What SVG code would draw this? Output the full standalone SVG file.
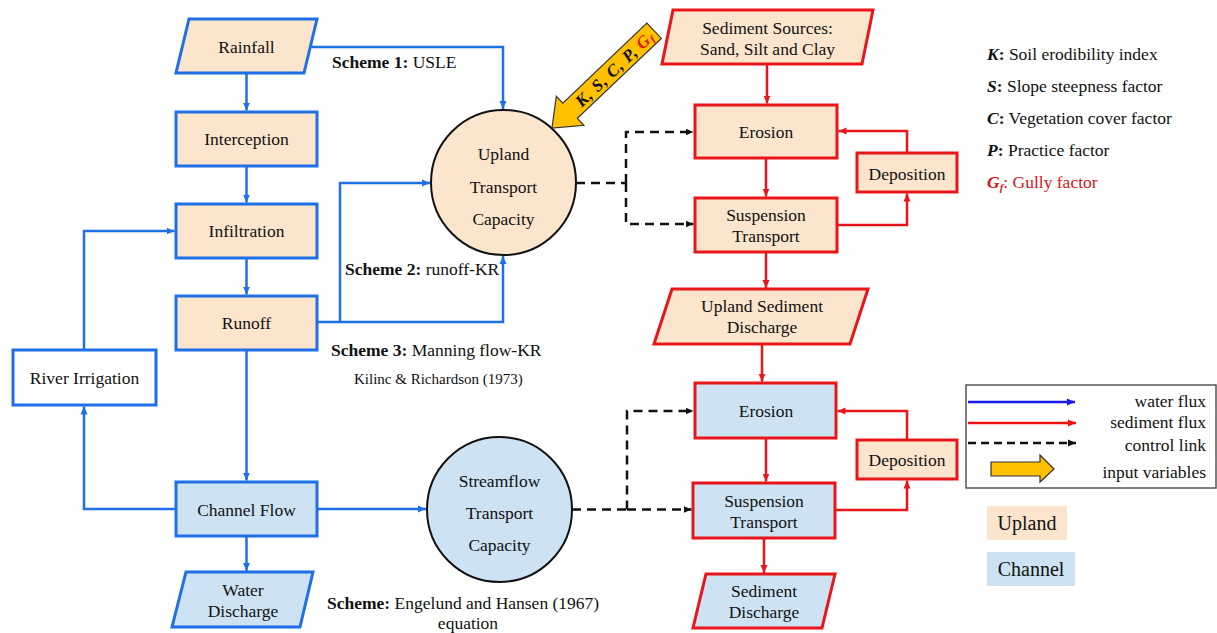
<svg xmlns="http://www.w3.org/2000/svg" width="1217" height="633" viewBox="0 0 1217 633">
<defs>
<style>
.ub{fill:#fbe5cd;stroke:#1f6fe5;stroke-width:3}
.cb{fill:#cde2f3;stroke:#1f6fe5;stroke-width:3}
.wb{fill:#fff;stroke:#1f6fe5;stroke-width:3}
.ur{fill:#fbe5cd;stroke:#e8161b;stroke-width:3}
.cr{fill:#cde2f3;stroke:#e8161b;stroke-width:3}
text{font-family:'Liberation Serif',serif}
.t{font-size:17.5px;fill:#111;text-anchor:middle}
.tl{font-size:17.5px;fill:#111}
.bl{fill:none;stroke:#1f6fe5;stroke-width:2.5;marker-end:url(#ab)}
.bn{fill:none;stroke:#1f6fe5;stroke-width:2.5}
.rl{fill:none;stroke:#e8161b;stroke-width:2.5;marker-end:url(#ar)}
.dl{fill:none;stroke:#111;stroke-width:2.5;stroke-dasharray:9 6;marker-end:url(#ak)}
.dn{fill:none;stroke:#111;stroke-width:2.5;stroke-dasharray:9 6}
.yel{fill:#ffc000;stroke:#333;stroke-width:1.2}
</style>
<marker id="ab" markerUnits="userSpaceOnUse" markerWidth="9" markerHeight="8" refX="8" refY="4" orient="auto"><path d="M0,0.5 L8,4 L0,7.5 z" fill="#1f6fe5"/></marker>
<marker id="ar" markerUnits="userSpaceOnUse" markerWidth="9" markerHeight="8" refX="8" refY="4" orient="auto"><path d="M0,0.5 L8,4 L0,7.5 z" fill="#e8161b"/></marker>
<marker id="ak" markerUnits="userSpaceOnUse" markerWidth="9" markerHeight="8" refX="8" refY="4" orient="auto"><path d="M0,0.5 L8,4 L0,7.5 z" fill="#111"/></marker>
<marker id="aB" markerUnits="userSpaceOnUse" markerWidth="9" markerHeight="8" refX="8" refY="4" orient="auto"><path d="M0,0.5 L8,4 L0,7.5 z" fill="#1818e8"/></marker>
<marker id="aR" markerUnits="userSpaceOnUse" markerWidth="9" markerHeight="8" refX="8" refY="4" orient="auto"><path d="M0,0.5 L8,4 L0,7.5 z" fill="#f01010"/></marker>
</defs>
<rect width="1217" height="633" fill="#fff"/>

<g id="connectors">
<path class="bl" d="M246.5,73 V110.5"/>
<path class="bl" d="M246.5,166 V202.5"/>
<path class="bl" d="M246.5,258 V294.5"/>
<path class="bl" d="M246.5,350 V480.5"/>
<path class="bl" d="M246.5,536 V571"/>
<path class="bl" d="M176,509 H84 V406.5"/>
<path class="bl" d="M84,350 V231 H174.5"/>
<path class="bl" d="M310,47 H503 V109"/>
<path class="bn" d="M317,322 H340"/>
<path class="bl" d="M340,322 H503 V256"/>
<path class="bl" d="M340,322 V183 H430"/>
<path class="bl" d="M317,509 H426"/>
<path class="rl" d="M767,64 V103.5"/>
<path class="rl" d="M766,158 V196.5"/>
<path class="rl" d="M837,225 H907 V193.5"/>
<path class="rl" d="M907,153 V131 H838.5"/>
<path class="rl" d="M766,252 V288"/>
<path class="rl" d="M762,344 V381.5"/>
<path class="rl" d="M766,438 V481.5"/>
<path class="rl" d="M835,510 H907 V480.5"/>
<path class="rl" d="M907,440 V411 H837.5"/>
<path class="rl" d="M764,538 V573"/>
<path class="dn" d="M576,183 H626"/>
<path class="dl" d="M626,183 V132 H693.5"/>
<path class="dl" d="M626,183 V224 H693.5"/>
<path class="dn" d="M572,509.5 H627"/>
<path class="dl" d="M627,509.5 V411 H693.5"/>
<path class="dl" d="M627,509.5 H691.5"/>
</g>

<g id="rainfall"><polygon class="ub" points="189,19 317,19 304,73 176,73"/><text class="t" x="246.5" y="53">Rainfall</text></g>
<g id="interception"><rect class="ub" x="176" y="112" width="141" height="54"/><text class="t" x="246.5" y="145">Interception</text></g>
<g id="infiltration"><rect class="ub" x="176" y="204" width="141" height="54"/><text class="t" x="246.5" y="237">Infiltration</text></g>
<g id="runoff"><rect class="ub" x="176" y="296" width="141" height="54"/><text class="t" x="246.5" y="329">Runoff</text></g>
<g id="river-irrigation"><rect class="wb" x="13" y="350" width="143" height="55"/><text class="t" x="84.5" y="384">River Irrigation</text></g>
<g id="channel-flow"><rect class="cb" x="176" y="482" width="141" height="54"/><text class="t" x="246.5" y="516">Channel Flow</text></g>
<g id="water-discharge"><polygon class="cb" points="186,572 313,572 300,627 172,627"/><text class="t" x="243" y="596">Water</text><text class="t" x="243" y="617">Discharge</text></g>

<g id="upland-capacity"><circle cx="503.5" cy="182.5" r="72.5" fill="#fbe5cd" stroke="#111" stroke-width="2"/><text class="t" x="503.5" y="160">Upland</text><text class="t" x="503.5" y="193">Transport</text><text class="t" x="503.5" y="225">Capacity</text></g>
<g id="streamflow-capacity"><circle cx="499.5" cy="509.5" r="72.5" fill="#cde2f3" stroke="#111" stroke-width="2"/><text class="t" x="499.5" y="487">Streamflow</text><text class="t" x="499.5" y="519">Transport</text><text class="t" x="499.5" y="551">Capacity</text></g>

<g id="scheme-labels">
<text class="tl" x="332" y="68"><tspan font-weight="bold">Scheme 1:</tspan> USLE</text>
<text class="tl" x="345" y="275"><tspan font-weight="bold">Scheme 2:</tspan> runoff-KR</text>
<text class="tl" x="331" y="356"><tspan font-weight="bold">Scheme 3:</tspan> Manning flow-KR</text>
<text class="tl" x="354" y="384" style="font-size:15px">Kilinc &amp; Richardson (1973)</text>
<text class="tl" x="327" y="609"><tspan font-weight="bold">Scheme:</tspan> Engelund and Hansen (1967)</text>
<text class="t" x="468" y="629">equation</text>
</g>

<g id="input-arrow" transform="translate(552,128) rotate(-43.6)">
<polygon class="yel" points="0,0 25,-20 25,-10.5 141,-10.5 141,10.5 25,10.5 25,20"/>
<text x="86" y="6" text-anchor="middle" style="font-size:17px;font-weight:bold;font-style:italic;letter-spacing:0.8px" fill="#111">K, S, C, P, <tspan fill="#e8161b">G<tspan font-size="11" dy="3">f</tspan></tspan></text>
</g>

<g id="sediment-sources"><polygon class="ur" points="673,10 873,10 862,64 662,64"/><text class="t" x="767.5" y="34">Sediment Sources:</text><text class="t" x="767.5" y="55">Sand, Silt and Clay</text></g>
<g id="upland-erosion"><rect class="ur" x="695" y="105" width="142" height="53"/><text class="t" x="766" y="138">Erosion</text></g>
<g id="upland-suspension"><rect class="ur" x="695" y="198" width="142" height="54"/><text class="t" x="766" y="221">Suspension</text><text class="t" x="766" y="242">Transport</text></g>
<g id="upland-deposition"><rect class="ur" x="857" y="153" width="100" height="39"/><text class="t" x="907" y="180">Deposition</text></g>
<g id="upland-sediment-discharge"><polygon class="ur" points="672,289 868,289 850,344 654,344"/><text class="t" x="762" y="312">Upland Sediment</text><text class="t" x="762" y="333">Discharge</text></g>
<g id="channel-erosion"><rect class="cr" x="695" y="383" width="141" height="55"/><text class="t" x="766" y="417">Erosion</text></g>
<g id="channel-suspension"><rect class="cr" x="693" y="483" width="142" height="55"/><text class="t" x="764" y="507">Suspension</text><text class="t" x="764" y="528">Transport</text></g>
<g id="channel-deposition"><rect class="ur" x="857" y="440" width="100" height="39"/><text class="t" x="907" y="466">Deposition</text></g>
<g id="sediment-discharge"><polygon class="cr" points="706,574 835,574 822,628 693,628"/><text class="t" x="764" y="597">Sediment</text><text class="t" x="764" y="618">Discharge</text></g>

<g id="definitions">
<text class="tl" x="987" y="60"><tspan font-weight="bold" font-style="italic">K</tspan><tspan font-weight="bold">:</tspan> Soil erodibility index</text>
<text class="tl" x="987" y="92"><tspan font-weight="bold" font-style="italic">S</tspan><tspan font-weight="bold">:</tspan> Slope steepness factor</text>
<text class="tl" x="987" y="124"><tspan font-weight="bold" font-style="italic">C</tspan><tspan font-weight="bold">:</tspan> Vegetation cover factor</text>
<text class="tl" x="987" y="156"><tspan font-weight="bold" font-style="italic">P</tspan><tspan font-weight="bold">:</tspan> Practice factor</text>
<text class="tl" x="987" y="188" style="fill:#d9151b"><tspan font-weight="bold" font-style="italic">G</tspan><tspan font-weight="bold" font-style="italic" font-size="11" dy="3">f</tspan><tspan dy="-3">: Gully factor</tspan></text>
</g>

<g id="legend">
<rect x="966" y="385" width="250" height="103" fill="#fff" stroke="#555" stroke-width="1.5"/>
<path d="M968,402 H1075" stroke="#1818e8" stroke-width="2.5" fill="none" marker-end="url(#aB)"/>
<path d="M968,423 H1076" stroke="#f01010" stroke-width="2.5" fill="none" marker-end="url(#aR)"/>
<path d="M968,443 H1076" stroke="#111" stroke-width="2.5" stroke-dasharray="8 5" fill="none" marker-end="url(#ak)"/>
<polygon class="yel" points="991,462 1040,462 1040,455 1054,469 1040,482 1040,476 991,476"/>
<text class="tl" x="1206" y="407" text-anchor="end">water flux</text>
<text class="tl" x="1206" y="428" text-anchor="end">sediment flux</text>
<text class="tl" x="1206" y="451" text-anchor="end">control link</text>
<text class="tl" x="1206" y="478" text-anchor="end">input variables</text>
</g>
<g id="legend-upland"><rect x="987" y="506" width="80" height="34" fill="#fbe5cd"/><text class="t" x="1027" y="530" style="font-size:20px">Upland</text></g>
<g id="legend-channel"><rect x="987" y="552" width="88" height="34" fill="#cde2f3"/><text class="t" x="1031" y="576" style="font-size:20px">Channel</text></g>
</svg>
